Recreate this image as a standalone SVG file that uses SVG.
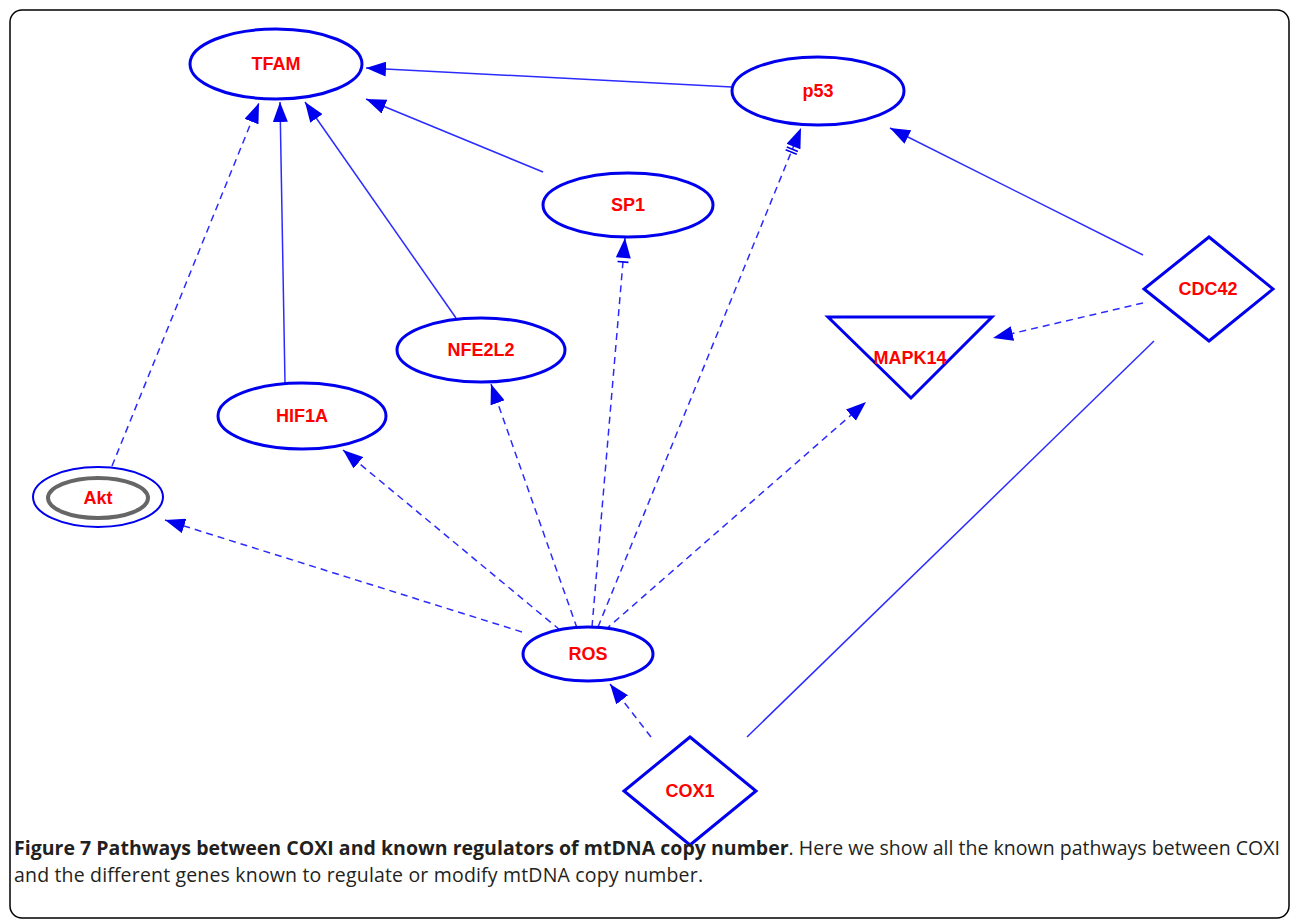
<svg xmlns="http://www.w3.org/2000/svg" width="1295" height="922" viewBox="0 0 1295 922">
<style>
.node{fill:#fff;stroke:#0000ee;stroke-width:3}
.lbl{font-family:"Liberation Sans",Arial,sans-serif;font-weight:bold;font-size:18px;fill:#ff0000;text-anchor:middle;dominant-baseline:central}
.e{stroke:#2b2bff;stroke-width:1.5;fill:none}
.d{stroke-dasharray:7 5}
.cap{font-family:"Open Sans",sans-serif;font-size:19.5px;fill:#231f20}
</style>
<defs>
<marker id="arr" markerUnits="userSpaceOnUse" markerWidth="21" markerHeight="15" refX="20" refY="7.5" orient="auto" viewBox="0 0 21 15">
<path d="M0,0 L20,7.5 L0,15 z" fill="#0000ee"/>
</marker>
<marker id="arr2" markerUnits="userSpaceOnUse" markerWidth="28" markerHeight="15" refX="27" refY="7.5" orient="auto" viewBox="0 0 28 15">
<path d="M7,0 L27,7.5 L7,15 z" fill="#0000ee"/>
<path d="M4,1.5 V13.5 M1,1.5 V13.5" stroke="#0000ee" stroke-width="1.6" fill="none"/>
</marker>
<marker id="arr1" markerUnits="userSpaceOnUse" markerWidth="28" markerHeight="15" refX="27" refY="7.5" orient="auto" viewBox="0 0 28 15">
<path d="M7,0 L27,7.5 L7,15 z" fill="#0000ee"/>
<path d="M3,2 V13" stroke="#0000ee" stroke-width="1.6" fill="none"/>
</marker>
</defs>
<rect x="0" y="0" width="1295" height="922" fill="#fff"/>
<rect x="10" y="10" width="1279" height="908" rx="12" ry="12" fill="none" stroke="#000" stroke-width="1.5"/>
<g id="connectors">
<line class="e" x1="732" y1="87" x2="366" y2="68" marker-end="url(#arr)"/>
<line class="e" x1="543" y1="172" x2="366" y2="99" marker-end="url(#arr)"/>
<line class="e d" x1="112" y1="466" x2="259" y2="103" marker-end="url(#arr)"/>
<line class="e" x1="285" y1="383" x2="280" y2="102" marker-end="url(#arr)"/>
<line class="e" x1="456" y1="318" x2="305" y2="102" marker-end="url(#arr)"/>
<line class="e" x1="1143" y1="255" x2="890" y2="128" marker-end="url(#arr)"/>
<line class="e d" x1="598" y1="627" x2="801" y2="128" marker-end="url(#arr2)"/>
<line class="e d" x1="592" y1="627" x2="625" y2="238" marker-end="url(#arr1)"/>
<line class="e d" x1="577" y1="628" x2="491" y2="384" marker-end="url(#arr)"/>
<line class="e d" x1="560" y1="630" x2="343" y2="450" marker-end="url(#arr)"/>
<line class="e d" x1="522" y1="632" x2="165" y2="520" marker-end="url(#arr)"/>
<line class="e d" x1="605" y1="630" x2="866" y2="402" marker-end="url(#arr)"/>
<line class="e d" x1="1143" y1="303" x2="993" y2="338" marker-end="url(#arr)"/>
<line class="e d" x1="651" y1="737" x2="610" y2="684" marker-end="url(#arr)"/>
<line class="e" x1="747" y1="737" x2="1154" y2="341"/>
</g>
<g id="TFAM"><ellipse class="node" cx="276" cy="64" rx="86" ry="35"/><text class="lbl" x="276" y="64">TFAM</text></g>
<g id="p53"><ellipse class="node" cx="818" cy="91" rx="86" ry="34"/><text class="lbl" x="818" y="91">p53</text></g>
<g id="SP1"><ellipse class="node" cx="628" cy="205" rx="85" ry="32"/><text class="lbl" x="628" y="205">SP1</text></g>
<g id="NFE2L2"><ellipse class="node" cx="481" cy="350" rx="84" ry="32"/><text class="lbl" x="481" y="350">NFE2L2</text></g>
<g id="HIF1A"><ellipse class="node" cx="302" cy="416" rx="84" ry="33"/><text class="lbl" x="302" y="416">HIF1A</text></g>
<g id="Akt"><ellipse cx="98" cy="497" rx="65" ry="30" fill="#fff" stroke="#0000ee" stroke-width="2"/><ellipse cx="98" cy="498" rx="50" ry="20" fill="none" stroke="#666" stroke-width="4"/><text class="lbl" x="98" y="498">Akt</text></g>
<g id="MAPK14"><polygon class="node" points="828,317 992,317 911,398"/><text class="lbl" x="910" y="358">MAPK14</text></g>
<g id="CDC42"><polygon class="node" points="1209,237 1273,289 1209,341 1144,289"/><text class="lbl" x="1208" y="289">CDC42</text></g>
<g id="ROS"><ellipse class="node" cx="588" cy="654" rx="65" ry="27" stroke-width="2.5"/><text class="lbl" x="588" y="654">ROS</text></g>
<g id="COX1"><polygon class="node" points="690,737 756,791 690,845 624,791"/><text class="lbl" x="690" y="791">COX1</text></g>
<g id="caption">
<text class="cap" x="14" y="855" textLength="1266" lengthAdjust="spacing"><tspan font-weight="bold">Figure 7 Pathways between COXI and known regulators of mtDNA copy number</tspan>. Here we show all the known pathways between COXI</text>
<text class="cap" x="14" y="882" textLength="689" lengthAdjust="spacing">and the different genes known to regulate or modify mtDNA copy number.</text>
</g>
</svg>
